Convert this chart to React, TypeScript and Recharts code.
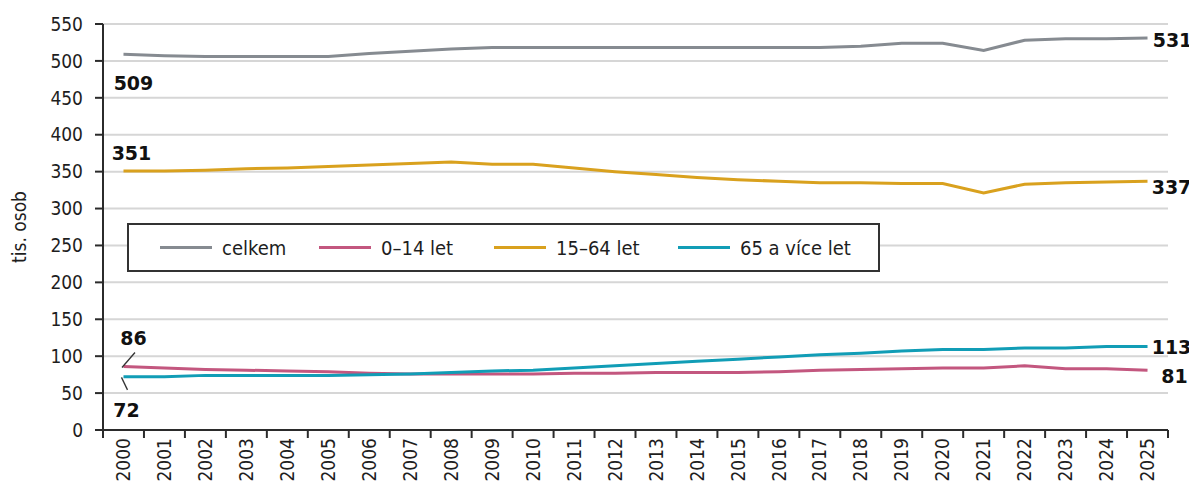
import { LineChart, Line, XAxis, YAxis, CartesianGrid, Legend } from 'recharts';

// Obyvatelstvo podle věkových skupin (tis. osob), 2000–2025
const years = [
  '2000', '2001', '2002', '2003', '2004', '2005', '2006', '2007', '2008', '2009', '2010', '2011', '2012',
  '2013', '2014', '2015', '2016', '2017', '2018', '2019', '2020', '2021', '2022', '2023', '2024', '2025',
];
const celkem = [509, 507, 506, 506, 506, 506, 510, 513, 516, 518, 518, 518, 518, 518, 518, 518, 518, 518, 520, 524, 524, 514, 528, 530, 530, 531];
const deti = [86, 84, 82, 81, 80, 79, 77, 76, 76, 76, 76, 77, 77, 78, 78, 78, 79, 81, 82, 83, 84, 84, 87, 83, 83, 81];
const produktivni = [351, 351, 352, 354, 355, 357, 359, 361, 363, 360, 360, 355, 350, 346, 342, 339, 337, 335, 335, 334, 334, 321, 333, 335, 336, 337];
const seniori = [72, 72, 74, 74, 74, 74, 75, 76, 78, 80, 81, 84, 87, 90, 93, 96, 99, 102, 104, 107, 109, 109, 111, 111, 113, 113];
const yTicks = [0, 50, 100, 150, 200, 250, 300, 350, 400, 450, 500, 550];

const data = years.map((year, i) => ({
  year,
  celkem: celkem[i],
  deti: deti[i],
  produktivni: produktivni[i],
  seniori: seniori[i],
}));

const W = 1189;
const H = 483;
const MARGIN = { top: 16, right: 29, left: 0, bottom: 0 };
const Y_AXIS_W = 95;
const X_AXIS_H = 61;
const PLOT_W = W - MARGIN.left - MARGIN.right - Y_AXIS_W;
const BAND = PLOT_W / years.length;
const PLOT_BOTTOM = H - MARGIN.bottom - X_AXIS_H;

const FONT = "'DejaVu Sans Condensed', 'DejaVu Sans', sans-serif";
const BOLD_FONT = "'DejaVu Sans', sans-serif";
const AXIS = '#2b2b2b';
const TEXT = '#1e1e1e';

// šířky položek legendy (px)
const LEGEND_ITEM_W = [159, 175, 184, 0];

type Edge = { dx: number; dy: number; leader?: [number, number, number, number] };
type Series = { key: string; name: string; color: string; first: Edge; last: Edge };

// popisky první a poslední hodnoty, posun vůči bodu
const series: Series[] = [
  { key: 'celkem', name: 'celkem', color: '#868b91', first: { dx: 10, dy: 36 }, last: { dx: 25, dy: 8.5 } },
  { key: 'deti', name: '0–14 let', color: '#c3577f', first: { dx: 10, dy: -22, leader: [-1.5, 1, 11.5, -14] }, last: { dx: 27, dy: 12.5 } },
  { key: 'produktivni', name: '15–64 let', color: '#d9a11e', first: { dx: 8, dy: -10.5 }, last: { dx: 24, dy: 13 } },
  { key: 'seniori', name: '65 a více let', color: '#119db6', first: { dx: 3, dy: 40, leader: [-2, 0.5, 4, 13] }, last: { dx: 24, dy: 7 } },
];

const makeDot = (s: Series) => (props: any) => {
  const { cx, cy, index, payload } = props;
  const isLast = index === years.length - 1;
  if (index !== 0 && !isLast) return <g key={`${s.key}-${index}`} />;
  const cfg = isLast ? s.last : s.first;
  return (
    <g key={`${s.key}-${index}`}>
      {cfg.leader && (
        <line
          x1={cx + cfg.leader[0]}
          y1={cy + cfg.leader[1]}
          x2={cx + cfg.leader[2]}
          y2={cy + cfg.leader[3]}
          stroke="#333"
          strokeWidth={1.3}
        />
      )}
      <text
        x={cx + cfg.dx}
        y={cy + cfg.dy}
        textAnchor="middle"
        fontFamily={BOLD_FONT}
        fontWeight="bold"
        fontSize={19}
        fill="#111"
      >
        {payload[s.key]}
      </text>
    </g>
  );
};

const renderXTick = (props: any) => {
  const { x, payload, index } = props;
  const y0 = PLOT_BOTTOM;
  const ty = y0 + 8;
  return (
    <g>
      <line x1={x - BAND / 2} x2={x - BAND / 2} y1={y0} y2={y0 + 8} stroke={AXIS} strokeWidth={2} />
      {index === years.length - 1 && (
        <line x1={x + BAND / 2} x2={x + BAND / 2} y1={y0} y2={y0 + 8} stroke={AXIS} strokeWidth={2} />
      )}
      <text
        x={x}
        y={ty}
        transform={`rotate(-90 ${x} ${ty})`}
        textAnchor="end"
        dy="0.35em"
        fontFamily={FONT}
        fontSize={19}
        fill={TEXT}
      >
        {payload.value}
      </text>
    </g>
  );
};

const renderYLabel = (props: any) => {
  const vb = props.viewBox;
  const cx = 11;
  const cy = vb ? vb.y + vb.height / 2 : MARGIN.top + (PLOT_BOTTOM - MARGIN.top) / 2;
  return (
    <text
      x={cx}
      y={cy}
      transform={`rotate(-90 ${cx} ${cy})`}
      textAnchor="middle"
      dy="0.35em"
      fontFamily={FONT}
      fontSize={19}
      fill={TEXT}
    >
      tis. osob
    </text>
  );
};

// legenda v pořadí řad, ne abecedně
const renderLegend = () => (
  <div style={{ display: 'flex', alignItems: 'center', height: '100%', paddingLeft: 31 }}>
    {series.map((s, i) => (
      <div
        key={s.key}
        style={{ display: 'flex', alignItems: 'center', flex: 'none', width: LEGEND_ITEM_W[i] || 'auto' }}
      >
        <span style={{ display: 'inline-block', width: 52, height: 3, background: s.color, marginRight: 10 }} />
        <span style={{ fontFamily: FONT, fontSize: 20, color: TEXT, whiteSpace: 'nowrap' }}>{s.name}</span>
      </div>
    ))}
  </div>
);

export default function App() {
  return (
    <LineChart width={W} height={H} data={data} margin={MARGIN}>
      <CartesianGrid vertical={false} stroke="#d6d6d6" strokeWidth={2} />
      <XAxis
        dataKey="year"
        interval={0}
        height={X_AXIS_H}
        tickLine={false}
        axisLine={{ stroke: AXIS, strokeWidth: 2 }}
        padding={{ left: BAND / 2, right: BAND / 2 }}
        tick={renderXTick}
      />
      <YAxis
        domain={[0, 550]}
        ticks={yTicks}
        interval={0}
        width={Y_AXIS_W}
        tickSize={8}
        tickMargin={12}
        axisLine={{ stroke: AXIS, strokeWidth: 2 }}
        tickLine={{ stroke: AXIS, strokeWidth: 2 }}
        tick={{ fill: TEXT, fontSize: 19, fontFamily: FONT }}
        label={renderYLabel}
      />
      <Legend
        layout="horizontal"
        verticalAlign="middle"
        align="center"
        content={renderLegend}
        wrapperStyle={{
          left: 119,
          top: 215,
          width: 753,
          height: 49,
          border: '2px solid #333',
          background: '#fff',
          boxSizing: 'border-box',
        }}
      />
      {series.map((s) => (
        <Line
          key={s.key}
          type="linear"
          dataKey={s.key}
          name={s.name}
          stroke={s.color}
          strokeWidth={3}
          dot={makeDot(s)}
          activeDot={false}
          isAnimationActive={false}
        />
      ))}
    </LineChart>
  );
}
